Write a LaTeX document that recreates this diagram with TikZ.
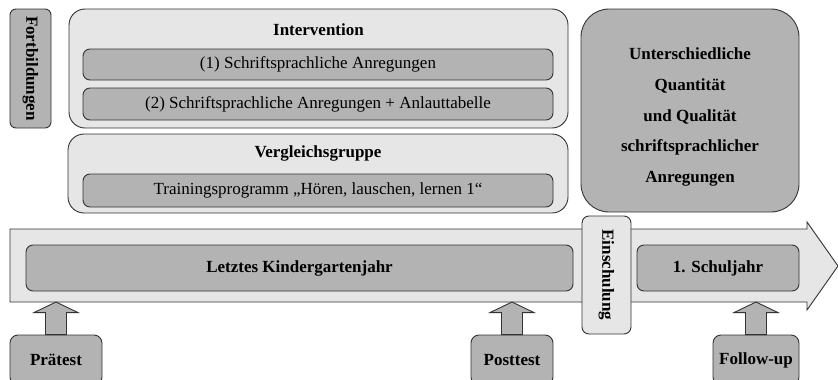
\documentclass[tikz,border=0pt]{standalone}
\usepackage{fontspec}
\setmainfont{Liberation Serif}
\usetikzlibrary{calc}
\definecolor{lightg}{HTML}{E6E6E6}
\definecolor{darkg}{HTML}{B3B3B3}
\definecolor{edge}{HTML}{333333}
\begin{document}
\begin{tikzpicture}[x=1pt,y=-1pt,
  every node/.style={font=\fontsize{17}{30}\selectfont, inner sep=0pt, text=black},
  lbox/.style={draw=edge, line width=0.9pt, fill=lightg, rounded corners=#1},
  lbox/.default=16pt,
  dbox/.style={draw=edge, line width=0.9pt, fill=darkg, rounded corners=#1},
  dbox/.default=7pt,
  title/.style={font=\fontsize{17}{30}\selectfont\bfseries},
  uparrow/.style={draw=edge, line width=0.9pt, fill=darkg},
  bigarrow/.style={draw=edge, line width=0.9pt, fill=lightg}
]
\useasboundingbox (0,0) rectangle (838,380);
\clip (0,0) rectangle (838,380);

% Fortbildungen
\node[dbox=6pt, rotate=-90, minimum width=119pt, minimum height=41pt, title] (fort) at (30.5,68.5) {Fortbildungen};

% Intervention
\node[lbox, minimum width=499pt, minimum height=119pt] (int) at (318.5,68.5) {};
\node[title] (intt) at (318.5,30) {Intervention};
\node[dbox, minimum width=470pt, minimum height=31pt] (i1) at (318,64.5) {(1) Schriftsprachliche Anregungen};
\node[dbox, minimum width=470pt, minimum height=32pt] (i2) at (318,104) {(2) Schriftsprachliche Anregungen + Anlauttabelle};

% Vergleichsgruppe
\node[lbox, minimum width=500pt, minimum height=79pt] (verg) at (318,173.5) {};
\node[title] (vergt) at (318,153) {Vergleichsgruppe};
\node[dbox, minimum width=470pt, minimum height=33pt] (v1) at (318,190.5) {Trainingsprogramm „Hören, lauschen, lernen 1“};

% Right box
\node[dbox=28pt, minimum width=218pt, minimum height=203pt] (right) at (690,110.5) {};
\node[align=center, font=\fontsize{17}{30.8}\selectfont\bfseries] (rightt) at (690,117) 
  {Unterschiedliche\\ Quantität\\ und Qualität\\ schriftsprachlicher\\ Anregungen};

% Big arrow
\coordinate (bodyb) at (0,302);
\draw[bigarrow] (10,229) -- (807,229) -- (807,222) -- (838,266) -- (807,310) -- (807,302) -- (10,302) -- cycle;

\node[dbox, minimum width=547pt, minimum height=46pt, title] (kg) at (299.5,268) {Letztes Kindergartenjahr};
\node[dbox, minimum width=162pt, minimum height=46pt, title] (sj) at (718,268) {1. Schuljahr};
\node[lbox=7pt, rotate=-90, minimum width=118pt, minimum height=49pt, title] (ein) at (606.5,275) {Einschulung};

% Bottom boxes
\node[dbox=8pt, minimum width=92pt, minimum height=50pt, title] (pre) at (56,360) {Prätest};
\node[dbox=8pt, minimum width=82pt, minimum height=50pt, title] (post) at (512,360) {Posttest};
\node[dbox=8pt, minimum width=86pt, minimum height=50pt, title] (fu) at (756,360) {Follow-up};

% Up arrows
\foreach \n in {pre,post,fu}{
  \draw[uparrow] ($(\n.north)+(-10.5,0)$) -- ($(\n.north)+(-10.5,-22)$) -- ($(\n.north)+(-22,-22)$)
    -- (\n.north |- bodyb) -- ($(\n.north)+(22,-22)$) -- ($(\n.north)+(10.5,-22)$) -- ($(\n.north)+(10.5,0)$) -- cycle;
}
\end{tikzpicture}
\end{document}
